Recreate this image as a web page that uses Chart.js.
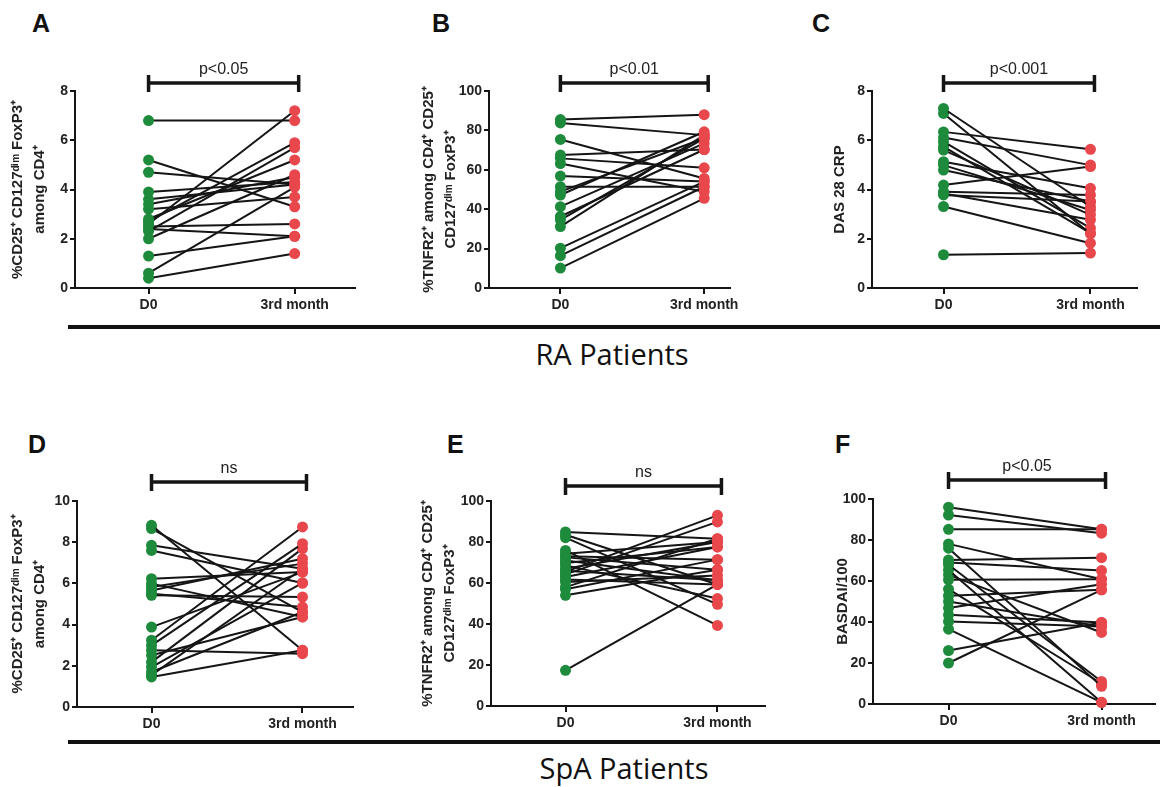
<!DOCTYPE html>
<html>
<head>
<meta charset="utf-8">
<script src="https://cdn.jsdelivr.net/npm/chart.js@4.4.1/dist/chart.umd.min.js"></script>
<style>
  body { margin: 0; background: #fff; width: 1160px; height: 787px; position: relative; overflow: hidden; font-family: "Liberation Sans", Arial, sans-serif; }
  canvas { position: absolute; }
  .letter { position: absolute; font-weight: bold; font-size: 25px; line-height: 25px; color: #111; }
  .rule { position: absolute; left: 68px; width: 1092px; height: 4px; background: #111; }
  .group { position: absolute; width: 400px; text-align: center; font-family: "Open Sans", sans-serif; font-size: 29px; color: #111; }
</style>
</head>
<body>
<div class="letter" style="left:32px;top:11px">A</div>
<div class="letter" style="left:432px;top:11px">B</div>
<div class="letter" style="left:812px;top:11px">C</div>
<div class="letter" style="left:28px;top:432px">D</div>
<div class="letter" style="left:447px;top:432px">E</div>
<div class="letter" style="left:835px;top:432px">F</div>
<div class="rule" style="top:325px"></div>
<div class="rule" style="top:740px"></div>
<div class="group" style="left:412px;top:334px">RA Patients</div>
<div class="group" style="left:424px;top:748px">SpA Patients</div>

<canvas id="chart-A"></canvas>
<canvas id="chart-B"></canvas>
<canvas id="chart-C"></canvas>
<canvas id="chart-D"></canvas>
<canvas id="chart-E"></canvas>
<canvas id="chart-F"></canvas>

<script>
// Time points on the x axis
const timePoints = ['D0', '3rd month'];

// A - %CD25+ CD127dim FoxP3+ among CD4+ (RA)
const d0A = [6.8, 5.2, 4.7, 3.9, 3.6, 3.4, 3.2, 2.8, 2.7, 2.6, 2.3, 2.5, 2.4, 2.0, 1.3, 0.6, 0.4];
const m3A = [6.8, 3.3, 4.2, 4.3, 4.2, 4.5, 3.7, 5.2, 5.9, 7.2, 5.7, 2.6, 2.1, 4.6, 2.1, 4.1, 1.4];

// B - %TNFR2+ among CD4+ CD25+ CD127dim FoxP3+ (RA)
const d0B = [85.5, 83.8, 75.4, 67.5, 65.8, 63.2, 56.8, 51.4, 48.9, 47.2, 41.3, 36.3, 34.6, 31.2, 20.2, 16.4, 10.1];
const m3B = [88, 77.6, 55.6, 70.3, 61, 48.9, 54, 51.4, 76, 79.3, 73.4, 70.3, 75.9, 77.6, 54, 51.4, 45.5];

// C - DAS 28 CRP (RA)
const d0C = [7.29, 7.09, 6.34, 6.11, 5.94, 5.74, 5.6, 5.13, 4.99, 4.79, 4.18, 3.91, 3.84, 3.78, 3.31, 1.35];
const m3C = [3.3, 2.2, 5.63, 4.99, 2.43, 2.23, 2.97, 4.05, 3.17, 3.51, 4.93, 3.78, 2.77, 3.51, 1.82, 1.42];

// D - %CD25+ CD127dim FoxP3+ among CD4+ (SpA)
const d0D = [8.82, 8.66, 7.85, 7.6, 6.23, 5.99, 5.83, 5.66, 5.5, 5.42, 3.88, 3.24, 2.99, 2.75, 2.51, 2.18, 1.94, 1.7, 1.46, 1.55];
const m3D = [2.75, 4.61, 6.71, 6.02, 6.55, 4.37, 6.96, 7.2, 4.85, 5.34, 6.55, 8.74, 7.93, 2.59, 4.37, 7.69, 6.02, 4.61, 2.75, 6.71];

// E - %TNFR2+ among CD4+ CD25+ CD127dim FoxP3+ (SpA)
const d0E = [84.9, 83.5, 82.1, 75.9, 74.3, 72.5, 71, 69.8, 68.6, 67, 65.4, 64.2, 62.9, 61.7, 60.5, 58, 57, 54, 17.4, 66, 73];
const m3E = [81.6, 59.3, 49.6, 39.3, 80, 66.5, 61.3, 77.6, 52.4, 80, 93, 89.8, 77.6, 59.3, 63.7, 81.6, 71.4, 66.5, 59.3, 61.3, 71.4];

// F - BASDAI/100 (SpA)
const d0F = [96, 92.2, 85.2, 78.1, 76, 70.3, 69, 67.9, 65.4, 60.6, 52.8, 50, 46.8, 43.5, 40.3, 36.5, 26.1, 20, 63, 56];
const m3F = [85.2, 83.3, 85.2, 60.9, 8.6, 71.4, 65.1, 11, 0.8, 60.9, 55.7, 37.8, 58.4, 39.8, 37.8, 0.8, 39.8, 55.7, 34.9, 10];

const titleCD25 = ['%CD25\u207A CD127\u1D48\u2071\u1D50 FoxP3\u207A', 'among CD4\u207A'];
const titleTNFR2 = ['%TNFR2\u207A among CD4\u207A CD25\u207A', 'CD127\u1D48\u2071\u1D50 FoxP3\u207A'];

const GREEN = '#1e8b3c';
const RED = '#e8474c';
const INK = '#151515';
const AXIS_W = 75;
const TOP_PAD = 45;
const X_AXIS_H = 32;
const TITLE_LH = 22;

// Panel layout (pixel positions)
const panels = [
    { id: 'A', d0: d0A, m3: m3A, yMax: 8, step: 2, title: titleCD25, p: 'p<0.05', axisX: 75, top: 91, bottom: 288, right: 360, x0: 150, x1: 299, titleX: 18, gap: 8 },
    { id: 'B', d0: d0B, m3: m3B, yMax: 100, step: 20, title: titleTNFR2, p: 'p<0.01', axisX: 489, top: 91, bottom: 288, right: 742, x0: 564, x1: 715, titleX: 429, gap: 8 },
    { id: 'C', d0: d0C, m3: m3C, yMax: 8, step: 2, title: 'DAS 28 CRP', p: 'p<0.001', axisX: 872, top: 91, bottom: 288, right: 1142, x0: 945, x1: 1095, titleX: 840, gap: 8 },
    { id: 'D', d0: d0D, m3: m3D, yMax: 10, step: 2, title: titleCD25, p: 'ns', axisX: 77, top: 501, bottom: 707, right: 358, x0: 153, x1: 307, titleX: 18, gap: 19 },
    { id: 'E', d0: d0E, m3: m3E, yMax: 100, step: 20, title: titleTNFR2, p: 'ns', axisX: 491, top: 501, bottom: 706, right: 770, x0: 567, x1: 722, titleX: 428, gap: 15 },
    { id: 'F', d0: d0F, m3: m3F, yMax: 100, step: 20, title: 'BASDAI/100', p: 'p<0.05', axisX: 873, top: 499, bottom: 704, right: 1160, x0: 950, x1: 1106, titleX: 843, gap: 19 }
];

// Draws the significance bracket with its label above the plot
const bracketPlugin = {
    id: 'bracket',
    afterDraw(chart, args, opts) {
        const { ctx, chartArea, scales } = chart;
        const xa = scales.x.getPixelForValue(0);
        const xb = scales.x.getPixelForValue(1) + 4;
        const y = chartArea.top - opts.gap;
        ctx.save();
        ctx.strokeStyle = INK;
        ctx.lineWidth = 3.5;
        ctx.beginPath();
        ctx.moveTo(xa, y); ctx.lineTo(xb, y);
        ctx.moveTo(xa, y - 8); ctx.lineTo(xa, y + 9);
        ctx.moveTo(xb, y - 8); ctx.lineTo(xb, y + 9);
        ctx.stroke();
        ctx.fillStyle = '#222';
        ctx.font = '16px "Liberation Sans", Arial, sans-serif';
        ctx.textAlign = 'center';
        ctx.textBaseline = 'alphabetic';
        ctx.fillText(opts.text, (xa + xb) / 2, y - 9);
        ctx.restore();
    }
};

function makeChart(p) {
    const canvas = document.getElementById('chart-' + p.id);
    const left = p.axisX - AXIS_W;
    const top = p.top - TOP_PAD;
    canvas.width = p.right - left;
    canvas.height = p.bottom - top + X_AXIS_H;
    canvas.style.left = left + 'px';
    canvas.style.top = top + 'px';

    // place D0 and 3rd month at the reference positions
    const w = p.right - p.axisX;
    const f0 = (p.x0 - p.axisX) / w;
    const f1 = (p.x1 - p.axisX) / w;
    const xMin = -f0 / (f1 - f0);
    const xMax = xMin + 1 / (f1 - f0);

    const datasets = p.d0.map((v, i) => ({
        data: [{ x: 0, y: v }, { x: 1, y: p.m3[i] }],
        borderColor: INK,
        borderWidth: 2,
        pointRadius: 5.5,
        pointHoverRadius: 5.5,
        pointBorderWidth: 0,
        pointBackgroundColor: [GREEN, RED],
        pointBorderColor: [GREEN, RED],
        clip: false
    }));

    new Chart(canvas.getContext('2d'), {
        type: 'line',
        data: { datasets: datasets },
        plugins: [bracketPlugin],
        options: {
            responsive: false,
            animation: false,
            layout: { padding: { top: TOP_PAD, right: 0, bottom: 0, left: 0 } },
            plugins: {
                legend: { display: false },
                tooltip: { enabled: false },
                bracket: { text: p.p, gap: p.gap }
            },
            scales: {
                x: {
                    type: 'linear',
                    min: xMin,
                    max: xMax,
                    afterBuildTicks: s => { s.ticks = [{ value: 0 }, { value: 1 }]; },
                    afterFit: s => { s.height = X_AXIS_H; },
                    ticks: {
                        callback: v => timePoints[v],
                        color: '#222',
                        font: { family: '"Liberation Sans", Arial', size: 14, weight: 'bold' },
                        padding: 3,
                        maxRotation: 0
                    },
                    grid: { drawOnChartArea: false, tickLength: 6, color: INK, lineWidth: 2 },
                    border: { color: INK, width: 2 }
                },
                y: {
                    min: 0,
                    max: p.yMax,
                    afterFit: s => { s.width = AXIS_W; },
                    ticks: {
                        stepSize: p.step,
                        color: '#222',
                        font: { family: '"Liberation Sans", Arial', size: 14, weight: 'bold' },
                        padding: 2
                    },
                    grid: { drawOnChartArea: false, tickLength: 5, color: INK, lineWidth: 2 },
                    border: { color: INK, width: 2 },
                    title: {
                        display: true,
                        text: p.title,
                        color: '#222',
                        font: { family: '"Liberation Sans", Arial', size: 15, weight: 'bold', lineHeight: TITLE_LH + 'px' },
                        padding: { top: p.titleX - left - TITLE_LH / 2, bottom: 0 }
                    }
                }
            }
        }
    });
}

panels.forEach(makeChart);
</script>
</body>
</html>
